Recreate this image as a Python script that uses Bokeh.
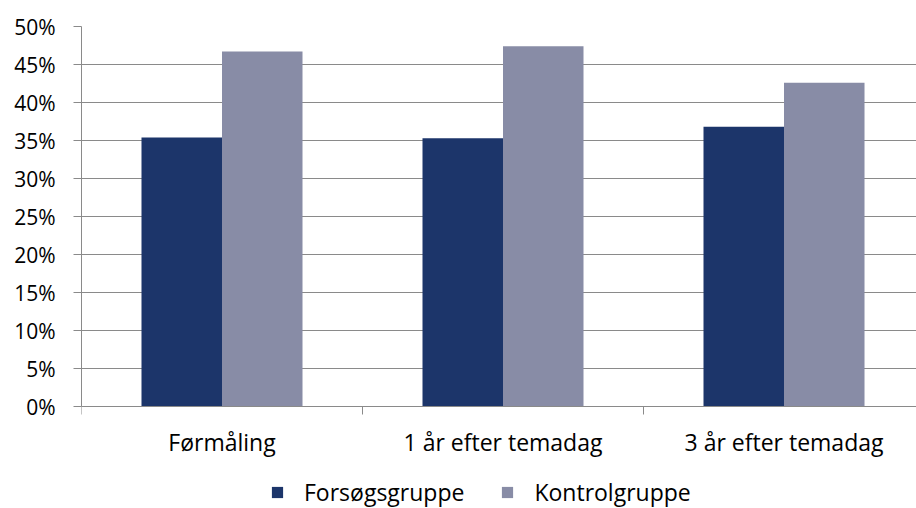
import numpy as np
from bokeh.plotting import figure
from bokeh.models import (ColumnDataSource, Range1d, FixedTicker, NumeralTickFormatter,
                          Legend, LegendItem)
from bokeh.transform import dodge
from bokeh.embed import file_html
from bokeh.resources import INLINE

categories = ["Førmåling", "1 år efter temadag", "3 år efter temadag"]
forsoeg = [0.354, 0.353, 0.368]
kontrol = [0.467, 0.474, 0.426]
series_names = ["Forsøgsgruppe", "Kontrolgruppe"]
y_ticks = [0.0, 0.05, 0.10, 0.15, 0.20, 0.25, 0.30, 0.35, 0.40, 0.45, 0.50]

FONT = "Open Sans"
DARK = "#1c356a"
LIGHT = "#888ca6"
GRID = "#8a8a8a"

xpos = np.arange(len(categories)) + 0.5
src = ColumnDataSource(dict(x=xpos, forsoeg=forsoeg, kontrol=kontrol))

# frame spans to the canvas bottom; the category axis is pinned at y = 0
p = figure(width=916, height=508, output_backend="svg", toolbar_location=None,
           x_range=Range1d(0, 2.9715), y_range=Range1d(-0.1342, 0.5),
           min_border_left=81, min_border_right=0, min_border_top=26,
           min_border_bottom=0)
p.outline_line_color = None
p.background_fill_color = "white"

bw = 0.2865
r1 = p.vbar(x=dodge("x", -bw / 2, range=p.x_range), top="forsoeg", width=bw,
            source=src, fill_color=DARK, line_color=None)
r2 = p.vbar(x=dodge("x", bw / 2, range=p.x_range), top="kontrol", width=bw,
            source=src, fill_color=LIGHT, line_color=None)

# x axis
xa = p.xaxis[0]
xa.fixed_location = 0
xa.ticker = FixedTicker(ticks=list(xpos), minor_ticks=list(range(len(categories) + 1)))
xa.major_label_overrides = {float(v): c for v, c in zip(xpos, categories)}
xa.major_tick_line_color = None
xa.major_tick_out = 7
xa.major_tick_in = 0
xa.minor_tick_out = 8
xa.minor_tick_in = 0
xa.minor_tick_line_color = GRID
xa.axis_line_color = GRID
xa.major_label_text_font = FONT
xa.major_label_text_font_size = "23px"
xa.major_label_text_color = "#000000"
xa.major_label_standoff = 11

# y axis
ya = p.yaxis[0]
ya.bounds = (0, 0.5)
ya.ticker = FixedTicker(ticks=y_ticks)
ya.formatter = NumeralTickFormatter(format="0%")
ya.minor_tick_line_color = None
ya.major_tick_out = 8
ya.major_tick_in = 0
ya.major_tick_line_color = GRID
ya.axis_line_color = GRID
ya.major_label_text_font = FONT
ya.major_label_text_font_size = "21px"
ya.major_label_text_color = "#000000"
ya.major_label_standoff = 18

p.xgrid.grid_line_color = None
p.ygrid.grid_line_color = GRID
p.ygrid.grid_line_width = 1

legend = Legend(items=[LegendItem(label=series_names[0], renderers=[r1]),
                       LegendItem(label=series_names[1], renderers=[r2])],
                orientation="horizontal", location=(189, 0),
                glyph_width=14, glyph_height=14, label_standoff=20, spacing=36,
                label_text_font=FONT, label_text_font_size="23px",
                label_text_color="#000000", border_line_color=None,
                background_fill_alpha=0, padding=0, margin=0)
p.add_layout(legend, "center")

open("out.html", "w").write(file_html(p, INLINE))
